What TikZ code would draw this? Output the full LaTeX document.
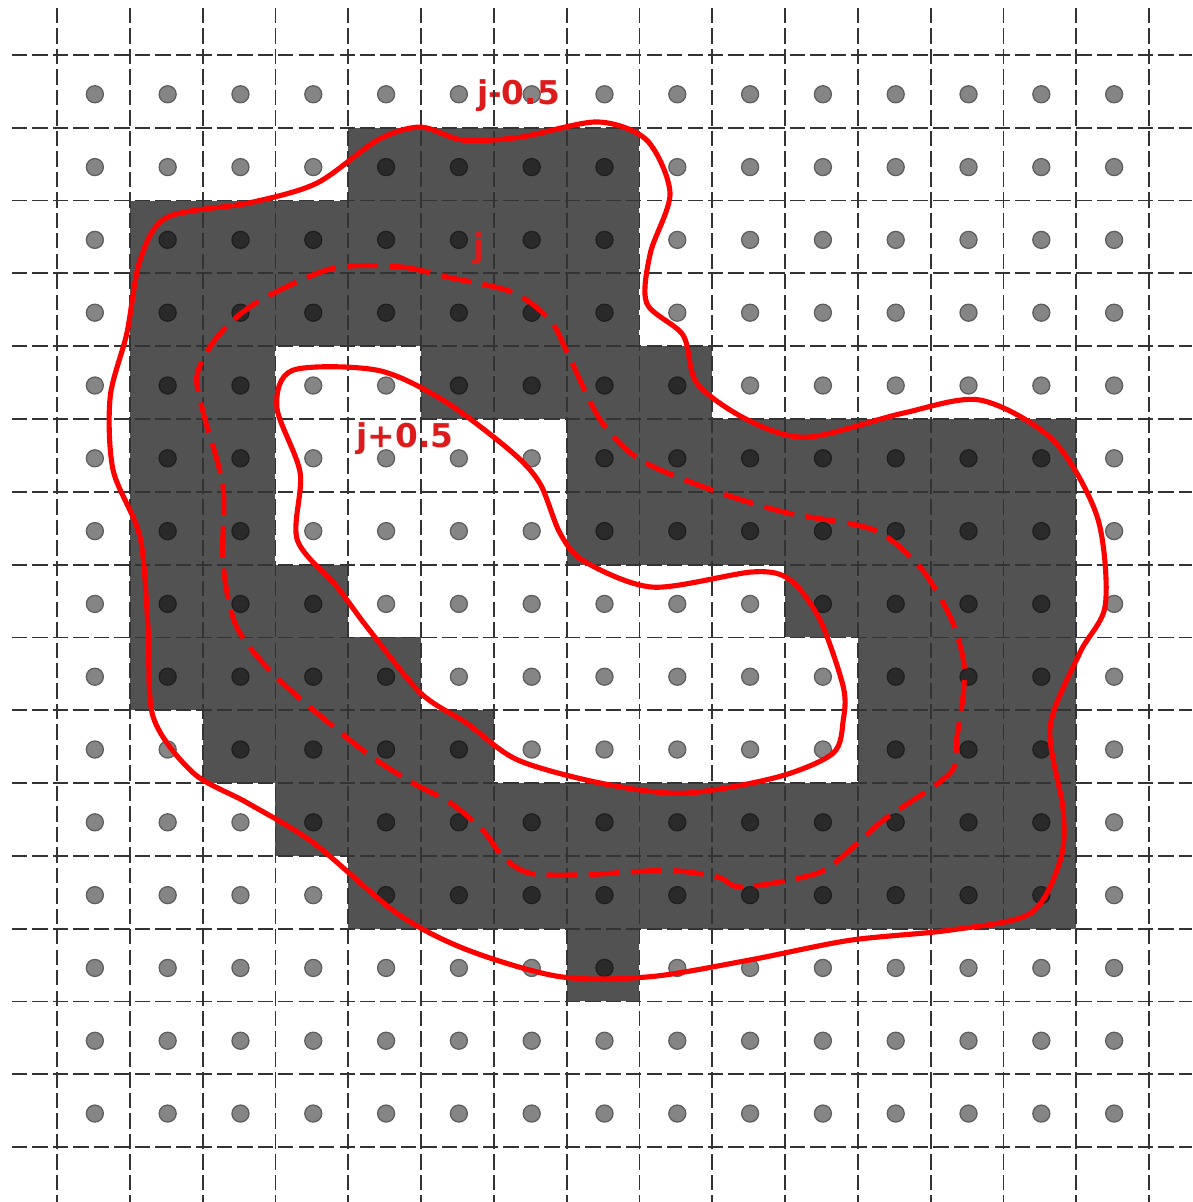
\documentclass[tikz,border=0pt]{standalone}
\usepackage{fontspec}
\setsansfont{DejaVu Sans}
\usepackage{xcolor}
\usepackage{tikz}

\definecolor{sitegray}{HTML}{858585}
\definecolor{siteedge}{HTML}{5E5E5E}
\definecolor{isored}{HTML}{FF0000}
\definecolor{lblred}{HTML}{DC1C1C}

\begin{document}
\begin{tikzpicture}[
  x=1cm, y=-1cm,
  gridline/.style={black!80, line width=0.7pt, dash pattern=on 6pt off 2pt},
  site/.style={fill=sitegray, draw=siteedge, line width=0.5pt},
  occupied/.style={fill=black, fill opacity=0.68},
  level/.style={isored, line width=2pt, line join=round},
  lbl/.style={text=lblred, font=\sffamily\bfseries\fontsize{12.8}{14}\selectfont,
    inner sep=0pt, anchor=base},
]
\useasboundingbox (-0.783,-0.755) rectangle (15.591,15.755);

% lattice sites
\foreach \i in {0,...,14}
  \foreach \j in {0,...,14}
    \filldraw[site] (\i+0.52,\j+0.54) circle (0.117);

% occupied cells (row/first col/last col)
\foreach \r/\a/\b in {1/4/7, 2/1/7, 3/1/7, 4/1/2, 4/5/8, 5/1/2, 5/7/13,
    6/1/2, 6/7/13, 7/1/3, 7/10/13, 8/1/4, 8/11/13, 9/2/5, 9/11/13,
    10/3/13, 11/4/13, 12/7/7}
  \fill[occupied] (\a,\r) rectangle (\b+1,\r+1);

% level labels
\node[lbl] (lblout) at (6.34,0.687) {j-0.5};
\node[lbl] (lblmid) at (5.80,2.775) {j};
\node[lbl] (lblin) at (4.78,5.398) {j+0.5};

% grid
\foreach \k in {0,...,15} {
  \draw[gridline] (\k,-0.646) -- (\k,15.755);
  \draw[gridline] (-0.618,\k) -- (15.591,\k);
}

% contour j-0.5
\draw[level] plot[smooth cycle] coordinates {
  (4.99,0.99) (5.58,1.17) (6.36,1.13) (7.42,0.92) (8.10,1.17) (8.42,1.90)
  (8.15,2.72) (8.10,3.41) (8.60,3.85) (8.79,4.51) (9.48,5.01) (10.30,5.25)
  (11.62,4.92) (12.68,4.74) (13.68,5.29) (14.29,6.35) (14.40,7.55) (14.05,8.21)
  (13.64,9.23) (13.82,10.37) (13.78,11.06) (13.37,11.79) (12.27,12.02)
  (10.89,12.16) (9.52,12.43) (8.15,12.66) (6.91,12.66) (5.63,12.29) (4.67,11.79)
  (3.52,10.82) (2.61,10.27) (1.87,9.86) (1.32,9.09) (1.25,7.86) (1.14,6.62)
  (0.77,5.70) (0.73,4.70) (0.96,3.82) (1.14,2.82) (1.51,2.23) (2.65,2.03)
  (3.57,1.76) (4.40,1.17)};

% contour j
\draw[level, dash pattern=on 12pt off 4.5pt] plot[smooth cycle] coordinates {
  (3.79,2.93) (4.71,2.91) (5.36,3.05) (6.26,3.26) (6.77,3.64) (7.01,4.09)
  (7.46,5.01) (8.01,5.56) (9.01,5.98) (10.03,6.29) (11.21,6.52) (11.85,7.03)
  (12.27,7.72) (12.45,8.31) (12.45,8.76) (12.36,9.37) (12.27,9.86) (11.35,10.51)
  (10.89,10.92) (10.44,11.24) (9.42,11.43) (9.07,11.29) (8.38,11.20) (7.23,11.26)
  (6.50,11.24) (6.13,11.02) (5.85,10.65) (5.40,10.27) (4.89,10.00) (4.20,9.55)
  (3.06,8.59) (2.47,7.86) (2.28,6.98) (2.28,5.93) (2.01,4.92) (1.92,4.42)
  (2.10,4.01) (2.42,3.64) (2.88,3.32)};

% contour j+0.5
\draw[level] plot[smooth cycle] coordinates {
  (3.24,4.33) (4.40,4.33) (5.30,4.74) (6.22,5.43) (6.63,5.88) (6.91,6.57)
  (7.25,6.96) (8.19,7.31) (9.56,7.10) (10.07,7.21) (10.48,7.76) (10.80,8.68)
  (10.80,9.13) (10.66,9.59) (9.89,9.92) (8.60,10.14) (7.46,10.00) (6.32,9.68)
  (5.63,9.18) (4.99,8.76) (4.26,7.86) (3.85,7.31) (3.30,6.66) (3.34,5.74)
  (3.02,4.84)};
\end{tikzpicture}
\end{document}
